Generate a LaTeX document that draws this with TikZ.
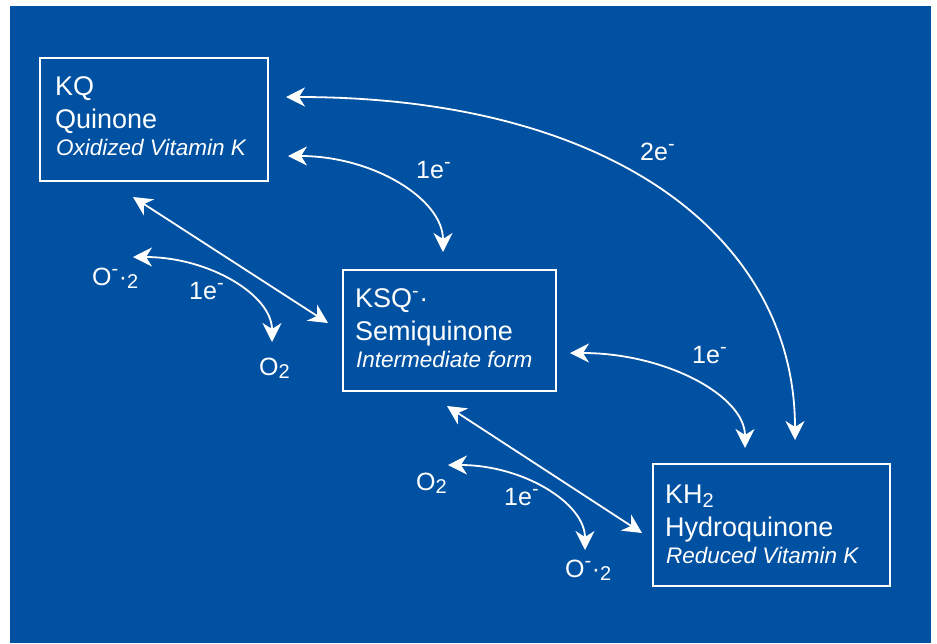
\documentclass[tikz,border=0pt]{standalone}
\usepackage{fontspec}
\setmainfont{Liberation Sans}
\usetikzlibrary{arrows.meta}
\definecolor{panelblue}{RGB}{0,81,161}

\newcommand{\lowidx}[2]{\raisebox{-#1}{\fontsize{20}{20}\selectfont #2}}
\newcommand{\negsup}{\textsuperscript{\fontsize{20}{20}\selectfont -}}

\tikzset{
  state/.style={draw=white, line width=1.5pt, anchor=north west, inner sep=0pt},
  title/.style={text=white, anchor=base west, inner sep=0pt, font=\fontsize{27}{32}\selectfont},
  form/.style={text=white, anchor=base west, inner sep=0pt, font=\fontsize{22.5}{27}\selectfont\itshape},
  lbl/.style={text=white, anchor=base west, inner sep=0pt, font=\fontsize{25}{29}\selectfont},
  flow/.style={draw=white, line width=1.8pt,
    {Stealth[length=19pt,width=19pt,inset=6pt]}-{Stealth[length=19pt,width=19pt,inset=6pt]}},
}

\begin{document}
\begin{tikzpicture}[x=1pt,y=-1pt]
\useasboundingbox (0,0) rectangle (937,643);
\fill[panelblue] (10,6) rectangle (931,643);

% the three forms of vitamin K
\node[state, minimum width=228, minimum height=123] (kq) at (39,57) {};
\node[title] (kqa) at (55,95) {KQ};
\node[title] (kqb) at (55,128) {Quinone};
\node[form] (kqc) at (56,155) {Oxidized Vitamin K};

\node[state, minimum width=213, minimum height=121] (ksq) at (342,269) {};
\node[title] (ksqa) at (355,307) {KSQ\negsup·};
\node[title] (ksqb) at (355,340) {Semiquinone};
\node[form] (ksqc) at (356,367) {Intermediate form};

\node[state, minimum width=237, minimum height=122] (kh) at (652,463) {};
\node[title] (kha) at (665,503) {KH\lowidx{4pt}{2}};
\node[title] (khb) at (665,536) {Hydroquinone};
\node[form] (khc) at (666,563) {Reduced Vitamin K};

% arrow ends
\coordinate (q1) at (286,97);  \coordinate (h1) at (795,440);
\coordinate (q2) at (288,156); \coordinate (s1) at (443,252);
\coordinate (q3) at (133,197); \coordinate (s2) at (328,323);
\coordinate (s3) at (570,353); \coordinate (h2) at (745,448);
\coordinate (s4) at (447,406); \coordinate (h3) at (642,533);

% oxygen side reactions
\node[lbl] (oxa) at (92,285) {O\negsup·\lowidx{3pt}{2}};
\node[lbl] (ea) at (189,299) {1e\negsup};
\node[lbl] (oxb) at (259,375) {O\lowidx{3pt}{2}};
\node[lbl] (oxc) at (416,490) {O\lowidx{3pt}{2}};
\node[lbl] (eb) at (504,505) {1e\negsup};
\node[lbl] (oxd) at (565,577) {O\negsup·\lowidx{3pt}{2}};
\coordinate (o1) at (133,257); \coordinate (o2) at (272,342);
\coordinate (o3) at (448,465); \coordinate (o4) at (585,550);

% electron labels
\node[lbl] (e2) at (640,160) {2e\negsup};
\node[lbl] (ec) at (416,178) {1e\negsup};
\node[lbl] (ed) at (692,363) {1e\negsup};

\draw[flow] (q1) .. controls +(330,0) and +(0,-200) .. (h1);
\draw[flow] (q2) .. controls +(85,0) and +(0,-53) .. (s1);
\draw[flow] (q3) -- (s2);
\draw[flow] (s3) .. controls +(96,0) and +(0,-52) .. (h2);
\draw[flow] (s4) -- (h3);
\draw[flow] (o1) .. controls +(76,0) and +(0,-47) .. (o2);
\draw[flow] (o3) .. controls +(75,0) and +(0,-47) .. (o4);
\end{tikzpicture}
\end{document}
